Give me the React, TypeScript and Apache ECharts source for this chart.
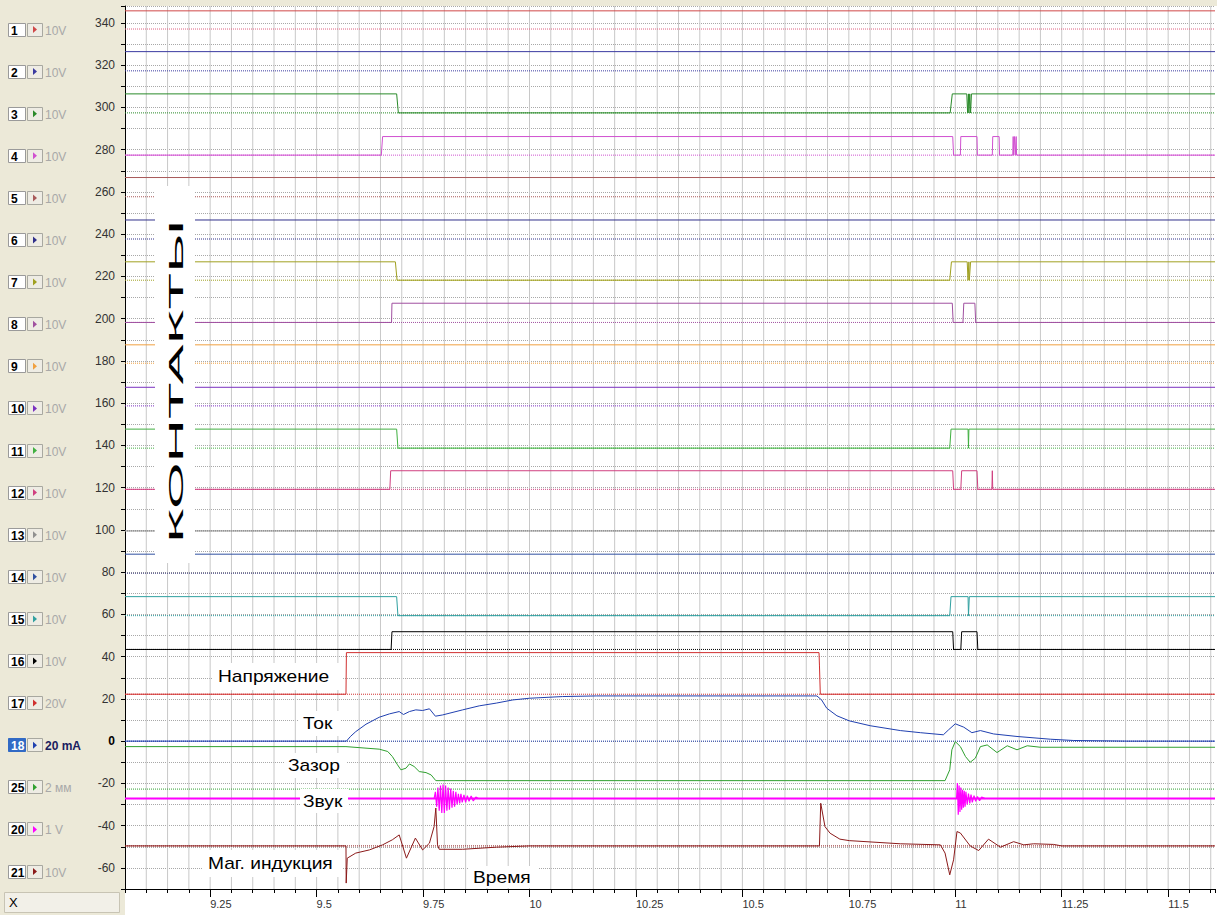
import React, { useEffect, useRef } from 'react';
import * as echarts from 'echarts';

const X_MIN = 9.05;
const X_MAX = 11.61;
const Y_MIN = -70;
const Y_MAX = 348;
const X_MINOR_STEP = 0.05;
const xMajorTicks = [9.25, 9.5, 9.75, 10, 10.25, 10.5, 10.75, 11, 11.25, 11.5];

const channelIds = ['1', '2', '3', '4', '5', '6', '7', '8', '9', '10', '11', '12', '13', '14', '15', '16', '17', '18', '25', '20', '21'];
const channelUnits = ['10V', '10V', '10V', '10V', '10V', '10V', '10V', '10V', '10V', '10V', '10V', '10V', '10V', '10V', '10V', '10V', '20V', '20 mA', '2 мм', '1 V', '10V'];
const channelColors = ['#d04848', '#3a3aa0', '#2a8a2a', '#d050d0', '#a85a5a', '#30308a', '#a0a020', '#a050a0', '#f0a040', '#7a30c0', '#40b040', '#d04080', '#909090', '#3050a0', '#30a0a0', '#000000', '#d03030', '#2040b0', '#30a030', '#ff00ff', '#8b1a1a'];
const baselineColors = ['#e06080', '#3a3aa0', '#2a8a2a', '#d050d0', '#a85a5a', '#30308a', '#a0a020', '#a050a0', '#f0a040', '#7a30c0', '#40b040', '#d04080', '#909090', '#303070', '#30a0a0', '#000000', '#d03030', '#2040b0', '#30a030', '#ff00ff', '#8b1a1a'];
const baselines = [337.1, 317.3, 297.4, 277.4, 257.7, 237.7, 218.2, 198.2, 178.9, 158.7, 138.7, 119.2, 99.5, 79.5, 59.4, 43.4, 22.2, 0, -22.7, -27.2, -49.6];

const ch1 = [[9.05, 345.7], [11.61, 345.7]];
const ch2 = [[9.05, 326.4], [11.61, 326.4]];
const ch3 = [[9.05, 306.4], [9.688, 306.4], [9.692, 297.4], [10.988, 297.4], [10.993, 306.4], [11.027, 306.4], [11.029, 297.4], [11.031, 306.4], [11.032, 297.4], [11.034, 306.4], [11.036, 297.4], [11.038, 306.4], [11.61, 306.4]];
const ch4 = [[9.05, 277.4], [9.652, 277.4], [9.655, 286.2], [10.994, 286.2], [10.996, 277.4], [11.012, 277.4], [11.013, 286.2], [11.051, 286.2], [11.052, 277.4], [11.087, 277.4], [11.088, 286.2], [11.103, 286.2], [11.104, 277.4], [11.135, 277.4], [11.136, 286.2], [11.137, 277.4], [11.139, 286.2], [11.141, 277.4], [11.143, 286.2], [11.144, 277.4], [11.61, 277.4]];
const ch5 = [[9.05, 266.8], [11.61, 266.8]];
const ch6 = [[9.05, 246.7], [11.61, 246.7]];
const ch7 = [[9.05, 226.9], [9.685, 226.9], [9.689, 218.2], [10.987, 218.2], [10.991, 226.9], [11.028, 226.9], [11.030, 218.2], [11.032, 226.9], [11.033, 218.2], [11.036, 226.9], [11.61, 226.9]];
const ch8 = [[9.05, 198.2], [9.676, 198.2], [9.677, 207.3], [10.993, 207.3], [10.995, 198.2], [11.018, 198.2], [11.020, 207.3], [11.046, 207.3], [11.048, 198.2], [11.61, 198.2]];
const ch9 = [[9.05, 187.6], [11.61, 187.6]];
const ch10 = [[9.05, 167.5], [11.61, 167.5]];
const ch11 = [[9.05, 147.7], [9.688, 147.7], [9.691, 138.7], [10.987, 138.7], [10.990, 147.7], [11.030, 147.7], [11.031, 138.7], [11.032, 147.7], [11.61, 147.7]];
const ch12 = [[9.05, 119.2], [9.672, 119.2], [9.674, 128], [10.994, 128], [10.996, 119.2], [11.013, 119.2], [11.015, 128], [11.051, 128], [11.053, 119.2], [11.086, 119.2], [11.087, 128], [11.088, 119.2], [11.61, 119.2]];
const ch13 = [[9.05, 99.5], [11.61, 99.5]];
const ch14 = [[9.05, 88.5], [11.61, 88.5]];
const ch15 = [[9.05, 68.4], [9.688, 68.4], [9.691, 59.4], [10.987, 59.4], [10.990, 68.4], [11.030, 68.4], [11.031, 59.4], [11.033, 68.4], [11.61, 68.4]];
const ch16 = [[9.05, 43.4], [9.675, 43.4], [9.677, 51.8], [10.994, 51.8], [10.996, 43.4], [11.013, 43.4], [11.015, 51.8], [11.051, 51.8], [11.053, 43.4], [11.61, 43.4]];
const voltage = [[9.05, 22.2], [9.569, 22.2], [9.570, 41.9], [10.680, 41.9], [10.681, 36], [10.683, 22.2], [11.61, 22.2]];
const current = [[9.05, 0], [9.570, 0], [9.580, 2.3], [9.592, 4.5], [9.616, 8.0], [9.647, 11.3], [9.671, 12.9], [9.694, 14.0], [9.704, 12.6], [9.718, 14.0], [9.733, 14.8], [9.749, 14.5], [9.765, 15.3], [9.779, 11.8], [9.796, 12.4], [9.843, 14.8], [9.882, 16.7], [9.922, 18.0], [9.961, 19.5], [10.0, 20.3], [10.078, 21.1], [10.157, 21.4], [10.675, 21.4], [10.686, 19.5], [10.698, 15.6], [10.722, 12.0], [10.751, 9.6], [10.8, 7.3], [10.871, 5.0], [10.918, 4.0], [10.972, 3.0], [10.984, 5.3], [11.0, 8.2], [11.020, 6.6], [11.039, 4.0], [11.059, 5.0], [11.090, 3.4], [11.145, 2.2], [11.224, 0.9], [11.278, 0.3], [11.404, 0], [11.61, 0]];
const gap = [[9.05, -2.6], [9.569, -2.6], [9.647, -3.8], [9.667, -4.9], [9.678, -7.3], [9.690, -11.2], [9.698, -13.6], [9.710, -12.8], [9.718, -10.8], [9.729, -12.0], [9.741, -14.4], [9.757, -14.9], [9.769, -16.0], [9.780, -18.7], [10.976, -18.7], [10.987, -13.6], [10.992, -4.1], [11.0, -0.2], [11.012, -2.6], [11.024, -7.3], [11.035, -10.0], [11.047, -8.1], [11.059, -2.6], [11.075, -1.8], [11.098, -5.4], [11.122, -2.2], [11.145, -4.1], [11.169, -2.2], [11.2, -2.9], [11.61, -2.9]];
const soundBase = [[9.05, -27.2], [11.61, -27.2]];
const soundBurst1 = [[9.776, -27.2], [9.779, -24], [9.782, -31], [9.785, -22], [9.788, -33], [9.791, -21], [9.794, -34], [9.797, -20.5], [9.800, -34], [9.803, -21], [9.806, -33], [9.809, -22], [9.812, -32.5], [9.815, -22.5], [9.818, -31.5], [9.821, -23.5], [9.824, -31], [9.827, -24], [9.830, -30], [9.833, -25], [9.836, -29.5], [9.839, -25], [9.842, -29], [9.846, -25.5], [9.850, -29], [9.854, -25.8], [9.858, -28.5], [9.863, -26], [9.868, -28.3], [9.874, -26.5], [9.88, -27.2]];
const soundBurst2 = [[11.003, -27.2], [11.005, -19.8], [11.007, -34.8], [11.009, -21], [11.011, -33.5], [11.013, -22], [11.015, -32.5], [11.017, -23], [11.019, -31.5], [11.021, -23.5], [11.023, -31], [11.025, -24], [11.028, -30], [11.031, -24.8], [11.034, -29.5], [11.037, -25.3], [11.040, -29], [11.044, -25.8], [11.048, -28.5], [11.052, -26.2], [11.057, -28.2], [11.062, -26.5], [11.07, -27.2]];
const induction = [[9.05, -49.6], [9.569, -49.6], [9.5695, -67.2], [9.572, -55.4], [9.592, -53.0], [9.624, -51.5], [9.655, -49.1], [9.678, -46.7], [9.694, -44.4], [9.711, -55.4], [9.732, -45.9], [9.749, -51.5], [9.765, -48.3], [9.776, -40.4], [9.780, -31.7], [9.784, -49.1], [9.788, -51.2], [9.843, -51.2], [9.922, -50.2], [10.0, -49.6], [10.681, -49.6], [10.684, -29.4], [10.694, -40.5], [10.706, -43.6], [10.729, -46.4], [10.751, -47.1], [10.871, -48.6], [10.965, -49.1], [10.976, -53.0], [10.987, -63.3], [10.996, -56.2], [11.004, -42.8], [11.012, -43.5], [11.035, -49.6], [11.055, -51.8], [11.078, -46.4], [11.106, -50.2], [11.137, -47.6], [11.161, -49.1], [11.184, -48.6], [11.231, -48.9], [11.25, -49.6], [11.61, -49.6]];

const traces = [ch1, ch2, ch3, ch4, ch5, ch6, ch7, ch8, ch9, ch10, ch11, ch12, ch13, ch14, ch15, ch16, voltage, current, gap, soundBase, induction];

const overlayLabels = ['Напряжение', 'Ток', 'Зазор', 'Звук', 'Маг. индукция', 'Время'];
const contactsLabel = 'КОНТАКТЫ';

const FONT = '"Liberation Sans", Arial, sans-serif';

function buildOption() {
  const series: any[] = [];
  // vertical grid lines: one small line series per grid position
  for (let k = 1; X_MIN + k * X_MINOR_STEP < X_MAX; k++) {
    const x = Math.round((X_MIN + k * X_MINOR_STEP) * 1000) / 1000;
    series.push({
      type: 'line', data: [[x, Y_MIN], [x, Y_MAX]], showSymbol: false, symbol: 'none', silent: true, z: 2,
      lineStyle: { color: '#c8c8c8', width: 1 },
    });
  }
  baselines.forEach((b, i) => {
    series.push({
      type: 'line', data: [[X_MIN, b], [X_MAX, b]], showSymbol: false, symbol: 'none', silent: true,
      lineStyle: { color: baselineColors[i], width: 1, type: [1, 1] }, z: 3,
    });
  });
  traces.forEach((d, i) => {
    const isSound = i === 19;
    series.push({
      type: 'line', data: d, showSymbol: false, symbol: 'none', silent: true,
      lineStyle: { color: channelColors[i], width: isSound ? 2 : 1 }, z: 4,
    });
  });
  [soundBurst1, soundBurst2].forEach((d) => {
    series.push({
      type: 'line', data: d, showSymbol: false, symbol: 'none', silent: true,
      lineStyle: { color: '#ff00ff', width: 1.2 }, z: 4,
    });
  });

  const graphic: any[] = [];
  graphic.push({ type: 'rect', z: -10, shape: { x: 125, y: 6, width: 1092, height: 909 }, style: { fill: '#ffffff' } });
  channelIds.forEach((id, i) => {
    const cy = 29.5 + i * 42.1;
    const sel = id === '18';
    graphic.push({ type: 'rect', shape: { x: 8.5, y: Math.round(cy) - 6.5, width: 17, height: 13 }, style: { fill: sel ? '#316AC5' : '#ffffff', stroke: sel ? '#316AC5' : '#9a9a9a', lineWidth: 1 } });
    graphic.push({ type: 'text', x: 11, y: Math.round(cy) + 0.5, style: { text: id, font: `bold 12px ${FONT}`, fill: sel ? '#ffffff' : '#000000', textAlign: 'left', align: 'left', textVerticalAlign: 'middle', verticalAlign: 'middle' } });
    graphic.push({ type: 'rect', shape: { x: 27.5, y: Math.round(cy) - 6.5, width: 15, height: 13 }, style: { fill: '#eeece4', stroke: '#a8a8a0', lineWidth: 1 } });
    graphic.push({ type: 'polygon', shape: { points: [[33, cy - 3.5], [37, cy], [33, cy + 3.5]] }, style: { fill: channelColors[i] } });
    graphic.push({ type: 'text', x: 45, y: Math.round(cy) + 0.5, style: { text: channelUnits[i], font: sel ? `bold 12px ${FONT}` : `12px ${FONT}`, fill: sel ? '#1a2060' : '#a8a8a8', textAlign: 'left', align: 'left', textVerticalAlign: 'middle', verticalAlign: 'middle' } });
  });
  graphic.push({ type: 'rect', shape: { x: 4.5, y: 892.5, width: 115, height: 20 }, style: { fill: '#f2f0e8', stroke: '#c8c4b4', lineWidth: 1 } });
  graphic.push({ type: 'text', x: 9, y: 902, style: { text: 'X', font: `13px ${FONT}`, fill: '#000', textAlign: 'left', align: 'left', textVerticalAlign: 'middle', verticalAlign: 'middle' } });

  graphic.push({ type: 'rect', z: 50, shape: { x: 155, y: 186, width: 40, height: 377 }, style: { fill: '#ffffff' } });
  graphic.push({ type: 'text', z: 51, x: 176, y: 381.5, rotation: Math.PI / 2, scaleX: 3.0, style: { text: contactsLabel, font: `20px ${FONT}`, fill: '#000', textAlign: 'center', align: 'center', textVerticalAlign: 'middle', verticalAlign: 'middle' } });

  const boxes = [
    [212, 663, 130, 27, 218, 677],
    [298, 711, 42, 25, 303, 723.5],
    [284, 753, 62, 25, 288, 766],
    [300, 789, 48, 24, 303, 801.5],
    [203, 850, 140, 27, 208, 863.5],
    [468, 866, 70, 22, 473, 877.5],
  ];
  overlayLabels.forEach((t, i) => {
    const b = boxes[i];
    graphic.push({ type: 'rect', z: 50, shape: { x: b[0], y: b[1], width: b[2], height: b[3] }, style: { fill: '#ffffff' } });
    graphic.push({ type: 'text', z: 51, x: b[4], y: b[5], scaleX: 1.2, style: { text: t, font: `16px ${FONT}`, fill: '#000', textAlign: 'left', align: 'left', textVerticalAlign: 'middle', verticalAlign: 'middle' } });
  });

  return {
    animation: false,
    backgroundColor: '#ECE9D8',
    grid: { left: 125, top: 6, width: 1090, height: 883, show: false },
    xAxis: [
      {
        type: 'value', min: X_MIN, max: X_MAX, interval: X_MINOR_STEP, position: 'bottom', z: 1,
        axisLine: { show: true, onZero: false, lineStyle: { color: '#000', width: 1 } },
        axisTick: { show: true, inside: false, length: 4, lineStyle: { color: '#000' } },
        axisLabel: { show: false },
        splitLine: { show: false },
      },
      {
        type: 'value', min: X_MIN, max: X_MAX, position: 'bottom', z: 1,
        axisLine: { show: false, onZero: false },
        axisTick: { show: true, length: 8, customValues: xMajorTicks, lineStyle: { color: '#000' } },
        axisLabel: { show: true, customValues: xMajorTicks, align: 'left', margin: 9, color: '#333', fontSize: 11, fontFamily: FONT, formatter: (v: number) => String(v) },
        splitLine: { show: false },
      },
    ],
    yAxis: {
      type: 'value', min: Y_MIN, max: Y_MAX, interval: 10, z: 1,
      axisLine: { show: true, onZero: false, lineStyle: { color: '#000', width: 1 } },
      axisTick: { show: true, length: 4, lineStyle: { color: '#000' } },
      axisLabel: {
        margin: 10, color: '#333', fontSize: 12, fontFamily: FONT,
        formatter: (v: number) => (v % 20 === 0 ? (v === 0 ? '{b|0}' : String(v)) : ''),
        rich: { b: { fontWeight: 'bold', color: '#000', fontSize: 12, fontFamily: FONT } },
      },
      splitLine: { show: true, lineStyle: { color: '#a8a8a8', width: 1, type: [1, 1] } },
    },
    series,
    graphic,
  };
}

export default function App() {
  const ref = useRef<HTMLDivElement>(null);
  useEffect(() => {
    if (!ref.current) return;
    const chart = echarts.init(ref.current, undefined, { renderer: 'svg' });
    chart.setOption(buildOption() as any);
    return () => chart.dispose();
  }, []);
  return (
    <div style={{ position: 'fixed', left: 0, top: 0, width: 1217, height: 915, background: '#ECE9D8' }}>
      <div ref={ref} style={{ width: 1217, height: 915 }} />
    </div>
  );
}
